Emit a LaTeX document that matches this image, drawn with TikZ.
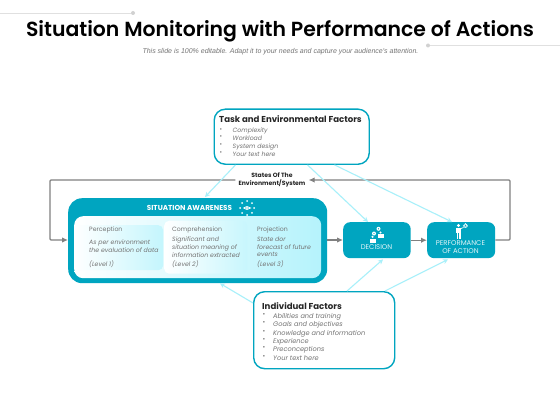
\documentclass[tikz,border=0pt]{standalone}
\usepackage{fontspec}
\setmainfont{Poppins}
\newfontfamily\titlef{Poppins SemiBold}
\newfontfamily\bodyf{Liberation Sans}
\usetikzlibrary{calc,arrows.meta,shadings}
\definecolor{teal}{HTML}{00A5C0}
\definecolor{lcyan}{HTML}{A8F0FA}
\definecolor{pale}{HTML}{B5F3FC}
\definecolor{txt}{HTML}{747474}
\definecolor{glin}{HTML}{808080}
\tikzset{
  x=1pt,y=-1pt,
  flow/.style={draw=glin,line width=1.4pt,-{Latex[length=6pt,width=5.5pt]}},
  feed/.style={draw=lcyan,line width=1.1pt,-{Stealth[length=5pt,width=5pt]}},
  factor/.style={draw=teal,line width=1.4pt,rounded corners=11pt,fill=white,inner sep=0pt,anchor=north west},
  tealbox/.style={fill=teal,rounded corners=7pt,inner sep=0pt,anchor=north west},
  boxtext/.style={inner sep=0pt,text=white!88!teal,align=center,font=\fontsize{6.9}{8.2}\selectfont},
  body/.style={text=txt,anchor=north west,inner sep=0pt,align=left,font=\fontsize{6.2}{7.8}\selectfont},
  bodyit/.style={body,font=\fontsize{6.2}{7.8}\selectfont\itshape},
  heading/.style={anchor=north west,inner sep=0pt,font=\fontsize{8.6}{10}\selectfont\bfseries,text=black!85},
  deco/.style={draw=black!12,line width=0.7pt},
  dotd/.style={circle,fill=black!18,inner sep=0pt,minimum size=4pt},
  panel/.style={anchor=north west,inner sep=0pt,rounded corners=5pt},
}
\begin{document}
\begin{tikzpicture}
\useasboundingbox (0,0) rectangle (560,420);
\fill[white] (0,0) rectangle (560,420);
% decorations
\node[dotd] (dl) at (133,13) {};
\coordinate (dlf) at (0,13);
\draw[deco] (dlf) -- (dl);
\node[dotd] (dr) at (428,45.5) {};
\coordinate (drf) at (560,45.5);
\draw[deco] (dr) -- (drf);
% title
\node[inner sep=0pt,font=\titlef\fontsize{20.4}{22}\selectfont] (title) at (280,31) {Situation Monitoring with Performance of Actions};
\node[inner sep=0pt,text=txt,font=\bodyf\fontsize{7}{8}\selectfont\itshape] (sub) at (280.5,52) {This slide is 100\% editable. Adapt it to your needs and capture your audience's attention.};
% factor boxes
\node[factor,minimum width=155pt,minimum height=55pt] (task) at (213.5,108.5) {};
\node[factor,minimum width=141pt,minimum height=77pt] (indiv) at (253,291) {};
% big box
\node[anchor=north west,inner sep=0pt,fill=teal,rounded corners=14pt,minimum width=259pt,minimum height=85pt] (sa) at (68,198) {};
\node[anchor=north west,inner sep=0pt,rounded corners=9pt,left color=white,right color=pale,minimum width=247pt,minimum height=62pt] (inner) at (74,216) {};
\node[panel,left color=white,right color=pale!80,minimum width=89pt,minimum height=45pt] (p1) at (74,225) {};
\node[panel,left color=white,right color=pale!75,minimum width=83pt,minimum height=53pt] (p2) at (164,220.5) {};
% process boxes
\node[tealbox,minimum width=67.5pt,minimum height=36pt] (dec) at (343,222) {};
\node[tealbox,minimum width=68pt,minimum height=36pt] (perf) at (427,222) {};
% states label
\node[inner sep=0pt,align=center,font=\fontsize{6.1}{8.6}\selectfont\bfseries,text=black!85] (states) at (272,180) {States Of The\\Environment/System};
% gray flows
\draw[flow,rounded corners=1pt] ($(states.west)+(-3,0)$) -- (50,180) -- (50,240) -- (sa.west |- 0,240);
\draw[flow,rounded corners=1pt] (perf.east |- 0,240) -- (510,240) -- (510,180) -- ($(states.east)+(3,0)$);
\draw[flow] (sa.east |- 0,240) -- (dec.west |- 0,240);
\draw[flow] (dec.east) -- (perf.west);
% cyan feeds
\draw[feed] ($(task.south west)+(22,0)$) -- ($(sa.north west)+(137,-1)$);
\draw[feed] ($(task.south west)+(94,0)$) -- ($(dec.north west)+(25,0)$);
\draw[feed] ($(task.south west)+(121,0)$) -- ($(perf.north west)+(25,0)$);
\draw[feed] ($(indiv.north west)+(0,12)$) -- ($(sa.south west)+(152,0)$);
\draw[feed] ($(indiv.north west)+(94,0)$) -- ($(dec.south west)+(40,1)$);
\draw[feed] ($(indiv.north west)+(132,0)$) -- ($(perf.south west)+(21,1)$);
% task text
\node[heading] (tt) at (219,115) {Task and Environmental Factors};
\node[body,font=\fontsize{6.2}{7.7}\selectfont] (tb) at (219.5,128) {•\\•\\•\\•};
\node[bodyit,font=\fontsize{6.2}{7.7}\selectfont\itshape] (tl) at (232.5,128) {Complexity\\Workload\\System design\\Your text here};
% indiv text
\node[heading] (it) at (262,302) {Individual Factors};
\node[body,font=\fontsize{6.6}{8.4}\selectfont] (ib) at (262.5,313) {•\\•\\•\\•\\•\\•};
\node[bodyit,font=\fontsize{6.6}{8.4}\selectfont\itshape] (il) at (273,313) {Abilities and training\\Goals and objectives\\Knowledge and information\\Experience\\Preconceptions\\Your text here};
% SA
\node[inner sep=0pt,text=white,font=\fontsize{7.2}{8}\selectfont\bfseries] (sah) at (189.5,208) {SITUATION AWARENESS};
\begin{scope}[shift={(247,208)}]
  \draw[white,line width=0.8pt] (-3.5,0) .. controls (-1.5,-2) and (1.5,-2) .. (3.5,0) .. controls (1.5,2) and (-1.5,2) .. (-3.5,0);
  \fill[white] (0,0) circle (1.2);
  \foreach \a in {0,45,...,315}{\fill[white] (\a:7) circle (1);}
\end{scope}
% columns
\node[body] (a1) at (89,227) {Perception};
\node[bodyit] (a2) at (89,240) {As per environment\\the evaluation of data};
\node[bodyit] (a3) at (89,260.5) {(Level 1)};
\node[body] (b1) at (172,227) {Comprehension};
\node[bodyit] (b2) at (172,236.5) {Significant and\\situation meaning of\\information extracted};
\node[bodyit] (b3) at (172,260.5) {(Level 2)};
\node[body] (c1) at (257,227) {Projection};
\node[bodyit] (c2) at (257,236.5) {State dor\\forecast of future\\events};
\node[bodyit] (c3) at (257,260.5) {(Level 3)};
% decision
\node[boxtext] (dt) at (376.5,247) {DECISION};
\begin{scope}[white]
  \fill (378.5,228.8) circle (2);
  \fill[teal] (378.5,228.8) circle (0.7);
  \fill (374,233.5) circle (2);
  \fill[teal] (374,233.5) circle (0.6);
  \fill (370,238.5) rectangle (376,242.5);
  \fill (372.5,236.8) circle (1.2);
  \fill (378,233.5) rectangle (384,237.5);
  \fill (380.5,232.5) circle (1.2);
\end{scope}
% performance
\node[boxtext] (pt) at (460.5,247) {PERFORMANCE\\OF ACTION};
\begin{scope}[white]
  \fill (458.5,225.5) circle (1.6);
  \fill (455.8,227.6) rectangle (461.2,233);
  \fill (456.5,233) rectangle (458.2,239);
  \fill (458.8,233) rectangle (460.5,239);
  \draw[line width=0.7pt] (461,228.5) -- (463.5,227.5);
  \draw[line width=1.1pt,dash pattern=on 1pt off 0.5pt] (465.5,225.8) circle (1.9);
\end{scope}
\end{tikzpicture}
\end{document}
